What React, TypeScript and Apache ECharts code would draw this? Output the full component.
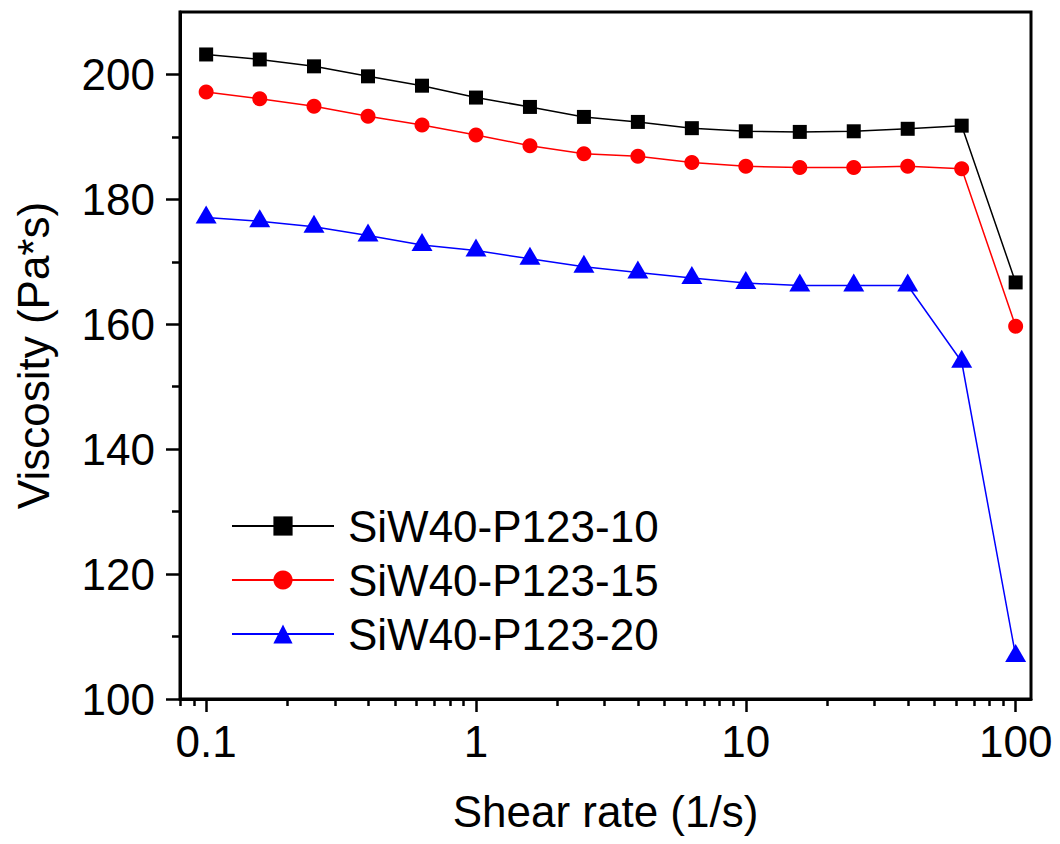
import React, { useEffect, useRef } from "react";
import * as echarts from "echarts";

const shearRates = [0.1, 0.158, 0.251, 0.398, 0.631, 1, 1.585, 2.512, 3.981, 6.31, 10, 15.85, 25.12, 39.81, 63.1, 100];
const visc10 = [203.2, 202.4, 201.3, 199.7, 198.2, 196.3, 194.8, 193.2, 192.4, 191.4, 190.9, 190.8, 190.9, 191.3, 191.8, 166.7];
const visc15 = [197.2, 196.1, 194.9, 193.3, 191.9, 190.3, 188.6, 187.3, 186.9, 185.9, 185.3, 185.1, 185.1, 185.3, 184.9, 159.7];
const visc20 = [177.1, 176.5, 175.6, 174.2, 172.7, 171.8, 170.5, 169.2, 168.3, 167.4, 166.6, 166.2, 166.2, 166.2, 154.0, 106.9];
const seriesNames = ["SiW40-P123-10", "SiW40-P123-15", "SiW40-P123-20"];
const xMajorTicks = [0.1, 1, 10, 100];
const xMinorTicks = [0.08, 0.09, 0.2, 0.3, 0.4, 0.5, 0.6, 0.7, 0.8, 0.9, 2, 3, 4, 5, 6, 7, 8, 9, 20, 30, 40, 50, 60, 70, 80, 90];
const yMajorTicks = [100, 120, 140, 160, 180, 200];
const yMinorTicks = [110, 130, 150, 170, 190];

const FONT = "'Liberation Sans', Arial, sans-serif";

export default function App() {
  const ref = useRef<HTMLDivElement>(null);
  useEffect(() => {
    if (!ref.current) return;
    const chart = echarts.init(ref.current, undefined, { renderer: "svg" });
    const xMin = 0.08;
    const xMax = 114;
    const yMin = 100;
    const yMax = 210;
    const mk = (ys: number[]) => shearRates.map((x, i) => [x, ys[i]]);
    chart.setOption({
      animation: false,
      backgroundColor: "#fff",
      grid: {
        left: 180,
        right: 29,
        top: 12,
        bottom: 145,
        show: true,
        borderColor: "#000",
        borderWidth: 3,
        backgroundColor: "transparent",
      },
      legend: {
        orient: "vertical",
        left: 226,
        top: 499,
        itemWidth: 102,
        itemHeight: 24,
        itemGap: 10,
        textStyle: { fontFamily: FONT, fontSize: 44, color: "#000", padding: [0, 0, 0, 9] },
        data: seriesNames,
      },
      xAxis: [
        {
          type: "log",
          min: xMin,
          max: xMax,
          position: "bottom",
          name: "Shear rate (1/s)",
          nameLocation: "middle",
          nameGap: 90,
          nameTextStyle: { fontFamily: FONT, fontSize: 44, color: "#000" },
          axisLine: { show: true, lineStyle: { color: "#000", width: 3 } },
          axisTick: { show: true, customValues: xMajorTicks, length: 13, inside: false, lineStyle: { color: "#000", width: 2.5 } },
          axisLabel: {
            customValues: xMajorTicks,
            margin: 20,
            fontFamily: FONT,
            fontSize: 44,
            color: "#000",
            formatter: (v: number) => String(v),
          },
          splitLine: { show: false },
          minorTick: { show: false },
        },
        {
          type: "log",
          min: xMin,
          max: xMax,
          position: "bottom",
          axisLine: { show: false },
          axisTick: { show: true, customValues: xMinorTicks, length: 7, lineStyle: { color: "#000", width: 2.5 } },
          axisLabel: { show: false },
          splitLine: { show: false },
        },
      ],
      yAxis: [
        {
          type: "value",
          min: yMin,
          max: yMax,
          interval: 20,
          position: "left",
          name: "Viscosity (Pa*s)",
          nameLocation: "middle",
          nameGap: 125,
          nameRotate: 90,
          nameTextStyle: { fontFamily: FONT, fontSize: 44, color: "#000" },
          axisLine: { show: true, lineStyle: { color: "#000", width: 3 } },
          axisTick: { show: true, customValues: yMajorTicks, length: 14, lineStyle: { color: "#000", width: 2.5 } },
          axisLabel: {
            customValues: yMajorTicks,
            margin: 25,
            fontFamily: FONT,
            fontSize: 44,
            color: "#000",
          },
          splitLine: { show: false },
        },
        {
          type: "value",
          min: yMin,
          max: yMax,
          position: "left",
          axisLine: { show: false },
          axisTick: { show: true, customValues: yMinorTicks, length: 8, lineStyle: { color: "#000", width: 2.5 } },
          axisLabel: { show: false },
          splitLine: { show: false },
        },
      ],
      series: [
        {
          name: seriesNames[0],
          type: "line",
          data: mk(visc10),
          symbol: "rect",
          symbolSize: 14,
          lineStyle: { color: "#000", width: 1.5 },
          itemStyle: { color: "#000" },
          z: 3,
        },
        {
          name: seriesNames[1],
          type: "line",
          data: mk(visc15),
          symbol: "circle",
          symbolSize: 15,
          lineStyle: { color: "#ff0000", width: 1.5 },
          itemStyle: { color: "#ff0000" },
          z: 3,
        },
        {
          name: seriesNames[2],
          type: "line",
          data: mk(visc20),
          symbol: "triangle",
          symbolSize: [21, 18],
          symbolOffset: [0, -3],
          lineStyle: { color: "#0000ff", width: 1.5 },
          itemStyle: { color: "#0000ff" },
          z: 3,
        },
      ],
    });
    return () => chart.dispose();
  }, []);
  return (
    <div
      ref={ref}
      style={{ position: "fixed", left: 0, top: 0, width: 1060, height: 844, background: "#fff" }}
    />
  );
}
